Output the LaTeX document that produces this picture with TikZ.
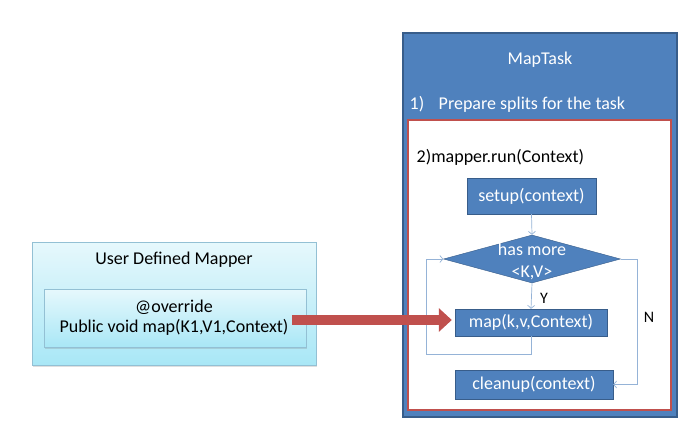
\documentclass[tikz,border=0pt]{standalone}
\usepackage{fontspec}
\setmainfont{Carlito}
\usetikzlibrary{arrows.meta,positioning,shapes,shadows}

\definecolor{taskblue}{HTML}{4F81BD}
\definecolor{taskborder}{HTML}{385D8A}
\definecolor{runred}{HTML}{C0504D}
\definecolor{flowblue}{HTML}{95B3D7}
\definecolor{usertop}{HTML}{E6F8FC}
\definecolor{userbottom}{HTML}{A9E7F6}
\definecolor{userborder}{HTML}{93C0D4}
\definecolor{arrowred}{HTML}{C0504D}

\begin{document}
\begin{tikzpicture}[x=1pt, y=-1pt, thick]

		\tikzstyle{every node}=[font=\fontsize{18}{20}\selectfont]
		\tikzstyle{task}=[rectangle, fill=taskblue, draw=taskborder, line width=1.5pt, minimum width=274pt, minimum height=384pt]
		\tikzstyle{run}=[rectangle, fill=white, draw=runred, line width=1.5pt, minimum width=263pt, minimum height=290pt]
		\tikzstyle{stepbox}=[rectangle, fill=taskblue, draw=taskborder, thin, text=white, inner sep=0pt]
		\tikzstyle{decision}=[diamond, fill=taskblue, draw=taskborder, thin, minimum width=177pt, minimum height=48pt, inner sep=0pt]
		\tikzstyle{user}=[rectangle, top color=usertop, bottom color=userbottom, draw=userborder, thin, drop shadow={shadow xshift=1.2pt, shadow yshift=-1.5pt, opacity=0.25}]
		\tikzstyle{flow}=[draw=flowblue, line width=0.7pt, -{Straight Barb[length=3pt,width=7pt]}]
		\tikzstyle{bigarrow}=[draw=arrowred, line width=10pt, -{Triangle[length=13pt,width=23pt]}, shorten >=3pt]

		\useasboundingbox (0,0) rectangle (690,433);

		% MapTask
		\node[task] (task) at (540,225) {};
		\node[text=white] (tasktitle) at (540,60) {MapTask};
		\node[text=white, anchor=west] (splits) at (406,104) {1)\hspace{0.8em}Prepare splits for the task};
		\node[run] (run) at (539.5,265) {};
		\node[anchor=west] (runtitle) at (413,157) {2)mapper.run(Context)};

		\node[stepbox, minimum width=129pt, minimum height=36pt] (setup) at (531.5,196) {setup(context)};
		\node[decision] (more) at (532,259) {};
		\node[text=white, align=center, font=\fontsize{18}{22}\selectfont] (moretext) at (532,261) {has more\\<K,V>};
		\node[stepbox, minimum width=152pt, minimum height=27pt] (map) at (531,322.5) {map(k,v,Context)};
		\node[stepbox, minimum width=158pt, minimum height=29pt] (cleanup) at (534,384.5) {cleanup(context)};

		\node[font=\fontsize{16}{18}\selectfont] (yes) at (544,298) {Y};
		\node[font=\fontsize{16}{18}\selectfont] (no) at (649,317) {N};

		\coordinate (loopleft) at (426,354);
		\coordinate (noright) at (637,259);

		\draw[flow] (setup.south) -- (more.north);
		\draw[flow] (more.south) -- (map.north);
		\draw[flow] (map.south) |- (loopleft) |- (more.west);
		\draw[flow] (more.east) -- (noright) |- (cleanup.east);

		% User Defined Mapper
		\node[user, minimum width=284pt, minimum height=123pt] (mapper) at (174,303.5) {};
		\node (mappertitle) at (174,260) {User Defined Mapper};
		\node[user, minimum width=262pt, minimum height=58pt] (override) at (175,318) {};
		\node[align=center] (overridetext) at (174,318) {@override\\Public void map(K1,V1,Context)};

		\coordinate (arrowtail) at ([yshift=-2pt]overridetext.east);
		\draw[bigarrow] (arrowtail) -- (arrowtail -| map.west);

\end{tikzpicture}
\end{document}
